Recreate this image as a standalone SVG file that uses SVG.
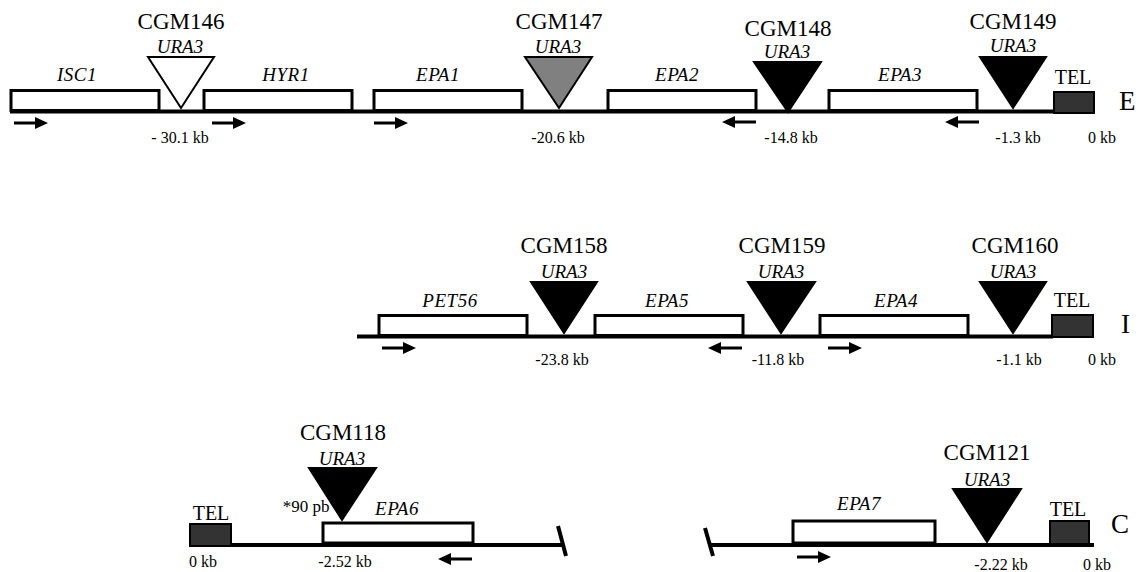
<svg xmlns="http://www.w3.org/2000/svg" width="1143" height="572" viewBox="0 0 1143 572" font-family="'Liberation Serif', 'DejaVu Serif', serif">
<style>
text{font-family:'Liberation Serif','DejaVu Serif',serif;fill:#000}
.cgm{font-size:23px;text-anchor:middle}
.ura{font-size:19px;font-style:italic;text-anchor:middle}
.gene{font-size:19px;font-style:italic;text-anchor:middle;letter-spacing:0.5px}
.kb{font-size:16px;text-anchor:middle}
.tel{font-size:20px;text-anchor:middle}
.chr{font-size:27px}
.box{fill:#fff;stroke:#000;stroke-width:3}
.telbox{fill:#333;stroke:#000;stroke-width:2}
.tri{stroke:#000;stroke-width:2}
.chrline{stroke:#000;stroke-width:4;fill:none}
</style>
<defs>
<path id="arr" d="M0,-1.4 H21 V-6 L34,0 L21,6 V1.4 H0 Z" fill="#000"/>
</defs>

<g id="connectors">
<line class="chrline" x1="10" y1="111.5" x2="1054" y2="111.5"/>
<line class="chrline" x1="357" y1="336.5" x2="1053" y2="336.5"/>
<line class="chrline" x1="231" y1="545" x2="562" y2="545"/>
<line class="chrline" x1="558" y1="526" x2="566" y2="556"/>
<line class="chrline" x1="710" y1="545" x2="1094" y2="545"/>
<line class="chrline" x1="705" y1="528" x2="713" y2="556"/>
</g>

<!-- Row E -->
<g id="ISC1"><rect class="box" x="11" y="90.5" width="148" height="20"/><text class="gene" x="77" y="81">ISC1</text><use href="#arr" transform="translate(14,123)"/></g>
<g id="HYR1"><rect class="box" x="204" y="90.5" width="148" height="20"/><text class="gene" x="286" y="81">HYR1</text><use href="#arr" transform="translate(212,123)"/></g>
<g id="EPA1"><rect class="box" x="374" y="90.5" width="148" height="20"/><text class="gene" x="438" y="81">EPA1</text><use href="#arr" transform="translate(374,123)"/></g>
<g id="EPA2"><rect class="box" x="608" y="90.5" width="148" height="20"/><text class="gene" x="677" y="81">EPA2</text><use href="#arr" transform="translate(756,122) scale(-1,1)"/></g>
<g id="EPA3"><rect class="box" x="829" y="90.5" width="148" height="20"/><text class="gene" x="900" y="81">EPA3</text><use href="#arr" transform="translate(979,122) scale(-1,1)"/></g>
<g id="TEL_E"><rect class="telbox" x="1054" y="92" width="40" height="21"/><text class="tel" x="1073" y="84">TEL</text></g>
<g id="label_E"><text class="chr" x="1119" y="110">E</text></g>

<g id="CGM146"><text class="cgm" x="181" y="29">CGM146</text><text class="ura" x="180" y="53">URA3</text><polygon class="tri" points="148,57 214,57 181,108" fill="#fff"/><text class="kb" x="180" y="143">- 30.1 kb</text></g>
<g id="CGM147"><text class="cgm" x="559" y="29">CGM147</text><text class="ura" x="558" y="53">URA3</text><polygon class="tri" points="525,57 592,57 559,108" fill="#808080"/><text class="kb" x="558" y="143">-20.6 kb</text></g>
<g id="CGM148"><text class="cgm" x="788" y="36">CGM148</text><text class="ura" x="787" y="58">URA3</text><polygon class="tri" points="754,62 821,62 788,112" fill="#000"/><text class="kb" x="791" y="143">-14.8 kb</text></g>
<g id="CGM149"><text class="cgm" x="1013" y="29">CGM149</text><text class="ura" x="1013" y="52">URA3</text><polygon class="tri" points="980,57 1046,57 1013,108" fill="#000"/><text class="kb" x="1018" y="143">-1.3 kb</text></g>
<g id="kb0_E"><text class="kb" x="1102" y="143">0 kb</text></g>

<!-- Row I -->
<g id="PET56"><rect class="box" x="379" y="315.5" width="148" height="20"/><text class="gene" x="450" y="307">PET56</text><use href="#arr" transform="translate(382,348)"/></g>
<g id="EPA5"><rect class="box" x="595" y="315.5" width="148" height="20"/><text class="gene" x="667" y="307">EPA5</text><use href="#arr" transform="translate(742,348) scale(-1,1)"/></g>
<g id="EPA4"><rect class="box" x="820" y="315.5" width="148" height="20"/><text class="gene" x="896" y="307">EPA4</text><use href="#arr" transform="translate(828,348)"/></g>
<g id="TEL_I"><rect class="telbox" x="1052" y="315" width="41" height="22"/><text class="tel" x="1072" y="307">TEL</text></g>
<g id="label_I"><text class="chr" x="1121" y="333">I</text></g>

<g id="CGM158"><text class="cgm" x="564" y="253">CGM158</text><text class="ura" x="564" y="278">URA3</text><polygon class="tri" points="531,282 597,282 564,333" fill="#000"/><text class="kb" x="562" y="365">-23.8 kb</text></g>
<g id="CGM159"><text class="cgm" x="782" y="253">CGM159</text><text class="ura" x="781" y="278">URA3</text><polygon class="tri" points="748,282 815,282 781,333" fill="#000"/><text class="kb" x="778" y="365">-11.8 kb</text></g>
<g id="CGM160"><text class="cgm" x="1015" y="253">CGM160</text><text class="ura" x="1013" y="278">URA3</text><polygon class="tri" points="980,282 1046,282 1013,333" fill="#000"/><text class="kb" x="1019" y="365">-1.1 kb</text></g>
<g id="kb0_I"><text class="kb" x="1102" y="365">0 kb</text></g>

<!-- Row C left -->
<g id="TEL_C1"><rect class="telbox" x="190" y="524" width="41" height="22"/><text class="tel" x="211" y="520">TEL</text><text class="kb" x="203" y="567">0 kb</text></g>
<g id="EPA6"><rect class="box" x="323" y="523" width="150" height="20"/><text class="gene" x="397" y="515">EPA6</text><use href="#arr" transform="translate(472,559) scale(-1,1)"/><text class="kb" x="345" y="567">-2.52 kb</text></g>
<g id="CGM118"><text class="cgm" x="343" y="440">CGM118</text><text class="ura" x="342" y="465">URA3</text><polygon class="tri" points="309,468 376,468 342,520" fill="#000"/><text class="kb" x="306" y="512" style="font-size:17px">*90 pb</text></g>

<!-- Row C right -->
<g id="EPA7"><rect class="box" x="793" y="521" width="142" height="22"/><text class="gene" x="859" y="510">EPA7</text><use href="#arr" transform="translate(797,557)"/></g>
<g id="CGM121"><text class="cgm" x="987" y="460">CGM121</text><text class="ura" x="987" y="486">URA3</text><polygon class="tri" points="953,489 1021,489 987,542" fill="#000"/><text class="kb" x="1001" y="570">-2.22 kb</text></g>
<g id="TEL_C2"><rect class="telbox" x="1050" y="521" width="39" height="23"/><text class="tel" x="1068" y="516">TEL</text><text class="kb" x="1097" y="570">0 kb</text></g>
<g id="label_C"><text class="chr" x="1111" y="533">C</text></g>
</svg>
